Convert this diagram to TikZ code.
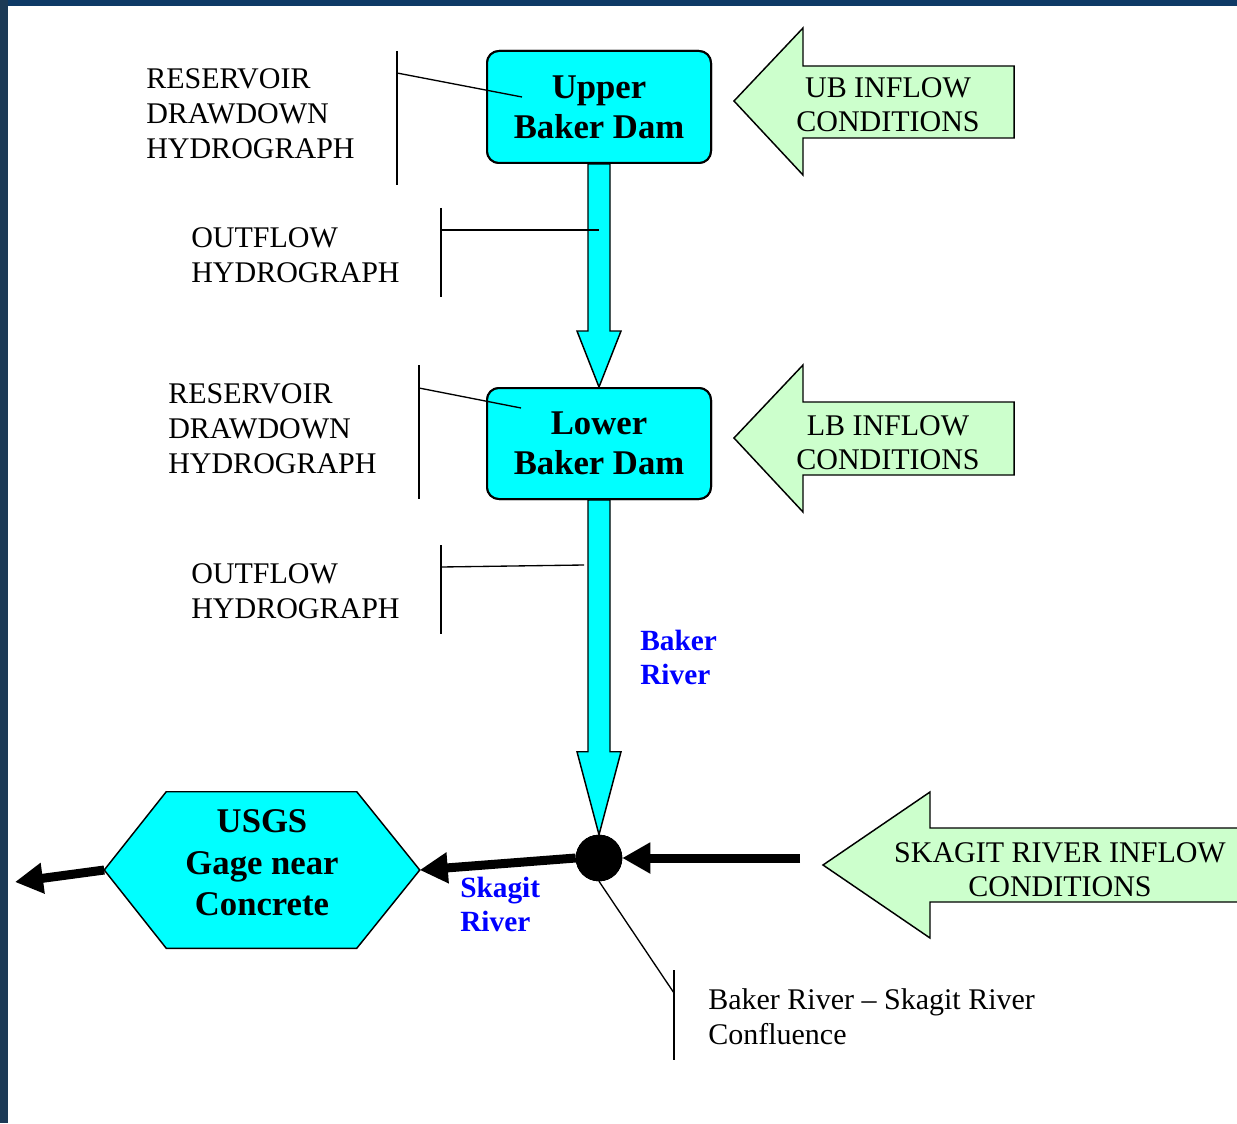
\documentclass[tikz,border=0pt]{standalone}
\usepackage{fontspec}
\setmainfont{Liberation Serif}
\usetikzlibrary{arrows.meta,calc}
\definecolor{aqua}{RGB}{0,255,255}
\definecolor{palegreen}{RGB}{204,255,204}
\definecolor{labelblue}{RGB}{0,0,255}
\definecolor{slateleft}{RGB}{28,58,86}
\definecolor{slatetop}{RGB}{14,58,102}
\begin{document}
\begin{tikzpicture}[x=0.75pt,y=-0.75pt,
  dambox/.style={draw=black,line width=1.5pt,fill=aqua,rounded corners=9pt,
    minimum width=168pt,minimum height=84pt,inner sep=0pt,align=center,
    font=\fontsize{26}{30}\selectfont\bfseries},
  hexframe/.style={draw=none,minimum width=236.25pt,minimum height=117pt,inner sep=0pt},
  hexshape/.style={draw=black,line width=1.1pt,fill=aqua},
  hextext/.style={inner sep=0pt,align=center,font=\fontsize{26}{31}\selectfont\bfseries},
  regtext/.style={inner sep=0pt,align=left,font=\fontsize{22.5}{26.25}\selectfont},
  inflowtext/.style={inner sep=0pt,align=center,font=\fontsize{22.5}{25.5}\selectfont},
  rivertext/.style={inner sep=0pt,align=left,text=labelblue,font=\fontsize{22}{25.5}\selectfont\bfseries},
  blockarrow/.style={draw=black,line width=1.1pt,fill=aqua,line join=miter},
  inflowshape/.style={draw=black,line width=1.1pt,fill=palegreen,line join=miter},
  flowarrow/.style={line width=6.75pt,-{Triangle[length=21pt,width=22pt]}},
  calloutline/.style={draw=black,line width=1pt},
  junction/.style={circle,fill=black,draw=black,minimum size=34.5pt,inner sep=0pt}
]
% page and slide background
\path[use as bounding box,fill=white] (0,0) rectangle (1237,1123);
\fill[slatetop] (0,0) rectangle (1237,6);
\fill[slateleft] (0,0) rectangle (8,1123);

% nodes
\node[dambox] (ub) at (599,107) {Upper\\Baker Dam};
\node[dambox,minimum height=83.25pt] (lb) at (599,443.5) {Lower\\Baker Dam};
\node[junction] (J) at (599,858) {};
\node[hexframe] (hex) at (262,870) {};

% block arrows (drawn under boxes)
\draw[blockarrow] ($(ub.south)+(-11,0)$) -- ($(lb.north)+(-11,-56)$) -- ($(lb.north)+(-22,-56)$)
  -- (lb.north) -- ($(lb.north)+(22,-56)$) -- ($(lb.north)+(11,-56)$) -- ($(ub.south)+(11,0)$) -- cycle;
\draw[blockarrow] ($(lb.south)+(-11,0)$) -- ($(J.north)+(-11,-83)$) -- ($(J.north)+(-22,-83)$)
  -- (J.north) -- ($(J.north)+(22,-83)$) -- ($(J.north)+(11,-83)$) -- ($(lb.south)+(11,0)$) -- cycle;

% redraw boxes on top
\node[dambox] at (ub) {Upper\\Baker Dam};
\node[dambox,minimum height=83.25pt] at (lb) {Lower\\Baker Dam};

% hexagon
\draw[hexshape] (hex.west) -- ($(hex.north west)+(62,0)$) -- ($(hex.north east)+(-63,0)$)
  -- (hex.east) -- ($(hex.south east)+(-63,0)$) -- ($(hex.south west)+(62,0)$) -- cycle;
\node[hextext] (usgs) at (262,863) {USGS\\Gage near\\Concrete};

% inflow block arrows
\draw[inflowshape] (734,101) -- (803,28) -- (803,66) -- (1014,66) -- (1014,138) -- (803,138) -- (803,175) -- cycle;
\node[inflowtext,anchor=base] (ubin) at (888,132) {UB INFLOW\\CONDITIONS};
\draw[inflowshape] (734,438) -- (803,365) -- (803,402) -- (1014,402) -- (1014,475) -- (803,475) -- (803,512) -- cycle;
\node[inflowtext,anchor=base] (lbin) at (888,469) {LB INFLOW\\CONDITIONS};
\fill[palegreen] (823,865) -- (930,792) -- (930,828) -- (1245,828) -- (1245,902) -- (930,902) -- (930,938) -- cycle;
\draw[inflowshape,fill=none] (1245,828) -- (930,828) -- (930,792) -- (823,865) -- (930,938) -- (930,902) -- (1245,902);
\node[inflowtext,anchor=base] (skin) at (1060,896) {SKAGIT RIVER INFLOW\\CONDITIONS};

% thick flow arrows
\coordinate (skagitin) at (800,858);
\coordinate (outflow) at (15,882);
\draw[flowarrow] (skagitin) -- (J.east);
\draw[flowarrow] (J.west) -- (hex.east);
\draw[flowarrow] (hex.west) -- (outflow);
\node[junction] at (J) {};

% callout texts (anchor base = last line)
\node[regtext,anchor=base west] (ures) at (146,159) {RESERVOIR\\DRAWDOWN\\HYDROGRAPH};
\node[regtext,anchor=base west] (uout) at (191,282) {OUTFLOW\\HYDROGRAPH};
\node[regtext,anchor=base west] (lres) at (168,473) {RESERVOIR\\DRAWDOWN\\HYDROGRAPH};
\node[regtext,anchor=base west] (lout) at (191,618) {OUTFLOW\\HYDROGRAPH};
\node[regtext,anchor=base west] (conf) at (708,1044) {Baker River – Skagit River\\Confluence};
\node[rivertext,anchor=base west] (bakerlbl) at (640,684) {Baker\\River};
\node[rivertext,anchor=base west] (skagitlbl) at (460,931) {Skagit\\River};

% callout lines
\coordinate (urT) at (397,51); \coordinate (urB) at (397,185);
\coordinate (urA) at (397,73); \coordinate (urE) at (522,97);
\draw[calloutline] (urT) -- (urB); \draw[calloutline] (urA) -- (urE);
\coordinate (uoT) at (441,208); \coordinate (uoB) at (441,297);
\coordinate (uoA) at (441,230); \coordinate (uoE) at (599,230);
\draw[calloutline] (uoT) -- (uoB); \draw[calloutline] (uoA) -- (uoE);
\coordinate (lrT) at (419,365); \coordinate (lrB) at (419,499);
\coordinate (lrA) at (419,388); \coordinate (lrE) at (521,408);
\draw[calloutline] (lrT) -- (lrB); \draw[calloutline] (lrA) -- (lrE);
\coordinate (loT) at (441,545); \coordinate (loB) at (441,634);
\coordinate (loA) at (441,567); \coordinate (loE) at (584,565);
\draw[calloutline] (loT) -- (loB); \draw[calloutline] (loA) -- (loE);
\coordinate (cfT) at (674,970); \coordinate (cfB) at (674,1060);
\coordinate (cfA) at (674,993);
\draw[calloutline] (cfT) -- (cfB); \draw[calloutline] (J.south) -- (cfA);
\end{tikzpicture}
\end{document}
